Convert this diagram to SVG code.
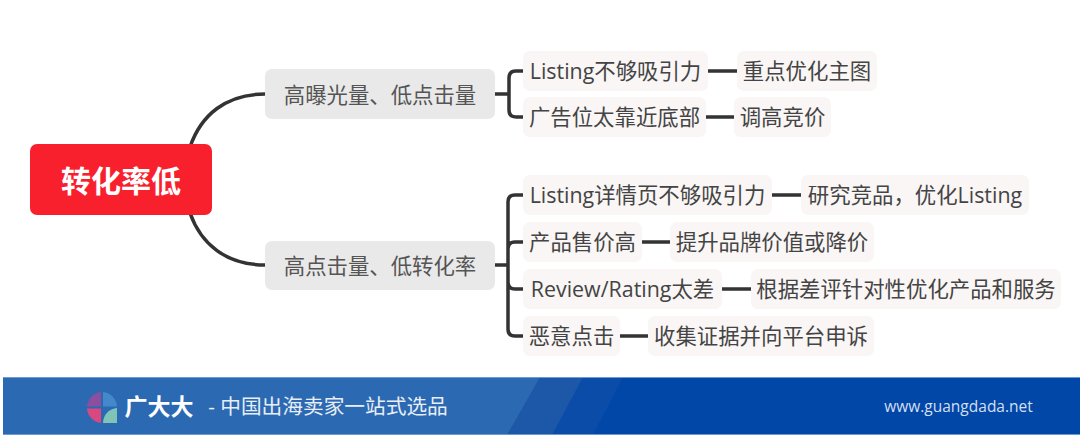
<svg xmlns="http://www.w3.org/2000/svg" width="1080" height="437" viewBox="0 0 1080 437">
<style>
text{font-family:"Open Sans","Noto Sans CJK SC",sans-serif;dominant-baseline:central;text-anchor:middle}
.c{fill:none;stroke:#333;stroke-width:3.500;stroke-linecap:butt}
.l1{fill:#e9e9e9}.l2{fill:#f9f6f5}
.t1{font-size:21.400px;fill:#555}.t2{font-size:21.400px;fill:#444}
</style>
<rect width="1080" height="437" fill="#fff"/>
<g id="connectors">
<path class="c" d="M190 147C201 115 226 94 265 94"/>
<path class="c" d="M190 213C201 244 226 265 265 265"/>
<path class="c" d="M495 94H509M523 71H516Q509 71 509 78V110Q509 117 516 117H523"/>
<path class="c" d="M495 265H508M523 195H515Q508 195 508 202V329Q508 336 515 336H523M508 249Q508 242 515 242H523M508 282Q508 289 515 289H523"/>
<path class="c" d="M708 71H737M706 117H734M772 195H801M642 242H670M722 289H751M620 336H648"/>
</g>
<g id="root"><rect x="30" y="144" width="182" height="71" rx="7" fill="#f9202e"/><text x="121" y="180" font-size="30" font-weight="700" fill="#fff">转化率低</text></g>
<g id="n1"><rect class="l1" x="265" y="69" width="230" height="50" rx="7"/><text class="t1" x="380" y="94">高曝光量、低点击量</text></g>
<g id="n2"><rect class="l1" x="265" y="241" width="230" height="49" rx="7"/><text class="t1" x="380" y="265">高点击量、低转化率</text></g>
<g id="n11"><rect class="l2" x="523" y="51" width="185" height="40" rx="7"/><text class="t2" x="615.500" y="70">Listing不够吸引力</text></g>
<g id="n111"><rect class="l2" x="737" y="51" width="140" height="40" rx="7"/><text class="t2" x="807" y="70">重点优化主图</text></g>
<g id="n12"><rect class="l2" x="523" y="97" width="183" height="40" rx="7"/><text class="t2" x="614.500" y="116">广告位太靠近底部</text></g>
<g id="n121"><rect class="l2" x="734" y="97" width="97" height="40" rx="7"/><text class="t2" x="782.500" y="116">调高竞价</text></g>
<g id="n21"><rect class="l2" x="523" y="175" width="249" height="40" rx="7"/><text class="t2" x="647.500" y="194">Listing详情页不够吸引力</text></g>
<g id="n211"><rect class="l2" x="801" y="175" width="228" height="40" rx="7"/><text class="t2" x="915" y="194">研究竞品，优化Listing</text></g>
<g id="n22"><rect class="l2" x="523" y="222" width="119" height="40" rx="7"/><text class="t2" x="582.500" y="241">产品售价高</text></g>
<g id="n221"><rect class="l2" x="670" y="222" width="204" height="40" rx="7"/><text class="t2" x="772" y="241">提升品牌价值或降价</text></g>
<g id="n23"><rect class="l2" x="523" y="269" width="199" height="40" rx="7"/><text class="t2" x="622.500" y="288">Review/Rating太差</text></g>
<g id="n231"><rect class="l2" x="751" y="269" width="310" height="40" rx="7"/><text class="t2" x="906" y="288">根据差评针对性优化产品和服务</text></g>
<g id="n24"><rect class="l2" x="523" y="316" width="97" height="40" rx="7"/><text class="t2" x="571.500" y="335">恶意点击</text></g>
<g id="n241"><rect class="l2" x="648" y="316" width="226" height="40" rx="7"/><text class="t2" x="761" y="335">收集证据并向平台申诉</text></g>
<g id="banner">
<rect x="3" y="377" width="1077" height="58" fill="#0047a8"/>
<path d="M3 377H623L593 435H3Z" fill="#0b4ca8"/>
<path d="M3 377H583L552 435H3Z" fill="#1d58a8"/>
<path d="M3 377H540L507 435H3Z" fill="#2b69b2"/>
<path d="M3 377.500H1080M3 434.500H1080" fill="none" stroke="#6d9ad4" stroke-width="1"/>
<path d="M101 392A15.500 15.500 0 0 0 87 406.500H101Z" fill="#8a4f9e"/>
<path d="M103 392A15.500 15.500 0 0 1 117 406.500H103Z" fill="#4488cc"/>
<path d="M87 408.500A15.500 15.500 0 0 0 101 423V408.500Z" fill="#d9487f"/>
<path d="M103 423H117V408A15 15 0 0 0 103 423Z" fill="#80c4b7"/>
<text x="159" y="406" font-size="23" font-weight="700" fill="#fff">广大大</text>
<text x="328" y="406" font-size="20.700" fill="#e8eef6">- 中国出海卖家一站式选品</text>
<text x="958.500" y="406" font-size="15.500" fill="#d5dff0">www.guangdada.net</text>
</g>
</svg>
